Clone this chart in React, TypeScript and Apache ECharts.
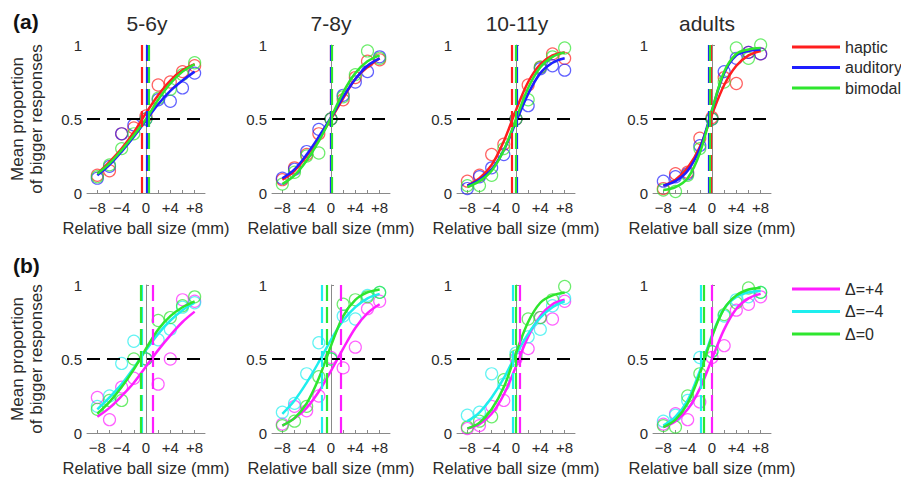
import React, { useEffect, useRef } from 'react';
import * as echarts from 'echarts';

// ---------- data ----------
const X_VALUES = [-8, -6, -4, -2, 0, 2, 4, 6, 8];
const PANEL_TITLES = ['5-6y', '7-8y', '10-11y', 'adults'];
const X_LABELS = [-8, -4, 0, 4, 8];
const X_TICKS = [-8, -6, -4, -2, 0, 2, 4, 6, 8];
const Y_TICKS = [0, 0.5, 1];

// Row (a): haptic / auditory / bimodal
const hapticPoints = [
  [0.12, 0.15, 0.40, 0.44, 0.52, 0.73, 0.75, 0.82, 0.86],
  [0.09, 0.17, 0.26, 0.40, 0.50, 0.63, 0.78, 0.89, 0.90],
  [0.08, 0.12, 0.26, 0.33, 0.50, 0.73, 0.85, 0.94, 0.91],
  [0.03, 0.13, 0.14, 0.37, 0.51, 0.78, 0.74, 0.95, 0.94],
];
const auditoryPoints = [
  [0.10, 0.18, 0.40, 0.46, 0.50, 0.63, 0.62, 0.71, 0.81],
  [0.10, 0.16, 0.28, 0.43, 0.50, 0.66, 0.75, 0.82, 0.92],
  [0.03, 0.11, 0.17, 0.26, 0.50, 0.59, 0.84, 0.86, 0.83],
  [0.08, 0.11, 0.13, 0.32, 0.50, 0.82, 0.91, 0.95, 0.94],
];
const bimodalPoints = [
  [0.11, 0.19, 0.30, 0.40, 0.50, 0.64, 0.70, 0.80, 0.88],
  [0.06, 0.14, 0.25, 0.27, 0.50, 0.65, 0.80, 0.96, 0.91],
  [0.05, 0.05, 0.12, 0.30, 0.50, 0.63, 0.85, 0.92, 0.98],
  [0.02, 0.01, 0.12, 0.30, 0.50, 0.75, 0.98, 0.91, 1.00],
];
const hapticFit = [
  [0.13, 0.21, 0.30, 0.41, 0.54, 0.66, 0.76, 0.83, 0.87],
  [0.09, 0.15, 0.25, 0.37, 0.50, 0.64, 0.77, 0.85, 0.91],
  [0.05, 0.10, 0.19, 0.35, 0.56, 0.75, 0.87, 0.93, 0.95],
  [0.05, 0.09, 0.17, 0.31, 0.53, 0.73, 0.86, 0.93, 0.96],
];
const auditoryFit = [
  [0.12, 0.19, 0.28, 0.38, 0.49, 0.60, 0.69, 0.76, 0.82],
  [0.10, 0.16, 0.26, 0.38, 0.51, 0.65, 0.77, 0.86, 0.91],
  [0.05, 0.09, 0.16, 0.29, 0.48, 0.67, 0.81, 0.88, 0.91],
  [0.05, 0.08, 0.15, 0.30, 0.56, 0.81, 0.93, 0.96, 0.97],
];
const bimodalFit = [
  [0.13, 0.20, 0.29, 0.39, 0.50, 0.63, 0.74, 0.82, 0.87],
  [0.06, 0.12, 0.22, 0.35, 0.51, 0.68, 0.81, 0.89, 0.93],
  [0.04, 0.08, 0.15, 0.29, 0.50, 0.71, 0.85, 0.92, 0.95],
  [0.02, 0.04, 0.10, 0.27, 0.56, 0.82, 0.94, 0.97, 0.98],
];
const hapticPSE = [-0.7, -0.1, -0.7, -0.2];
const auditoryPSE = [0.2, 0.0, 0.2, -0.5];
const bimodalPSE = [0.4, 0.1, 0.0, -0.3];

// Row (b): Δ=+4 / Δ=−4 / Δ=0
const plus4Points = [
  [0.24, 0.09, 0.31, 0.37, 0.50, 0.33, 0.50, 0.90, 0.89],
  [0.06, 0.18, 0.15, 0.25, 0.51, 0.44, 0.58, 0.84, 0.89],
  [0.03, 0.05, 0.18, 0.22, 0.50, 0.57, 0.78, 0.77, 0.89],
  [0.06, 0.13, 0.09, 0.21, 0.51, 0.59, 0.83, 0.87, 0.92],
];
const minus4Points = [
  [0.18, 0.25, 0.47, 0.62, 0.50, 0.63, 0.70, 0.85, 0.88],
  [0.14, 0.20, 0.40, 0.61, 0.50, 0.79, 0.77, 0.93, 0.95],
  [0.12, 0.14, 0.40, 0.33, 0.54, 0.65, 0.70, 0.86, 0.91],
  [0.08, 0.12, 0.22, 0.51, 0.55, 0.79, 0.90, 0.92, 0.95],
];
const zeroPoints = [
  [0.16, 0.22, 0.22, 0.50, 0.50, 0.76, 0.78, 0.86, 0.92],
  [0.05, 0.08, 0.18, 0.38, 0.50, 0.87, 0.90, 0.92, 0.95],
  [0.04, 0.08, 0.11, 0.36, 0.52, 0.77, 0.78, 0.90, 0.99],
  [0.05, 0.04, 0.25, 0.40, 0.55, 0.80, 0.88, 0.98, 0.95],
];
const plus4Fit = [
  [0.11, 0.17, 0.25, 0.34, 0.45, 0.56, 0.66, 0.75, 0.82],
  [0.05, 0.10, 0.17, 0.28, 0.42, 0.57, 0.71, 0.81, 0.87],
  [0.03, 0.06, 0.13, 0.26, 0.45, 0.65, 0.79, 0.87, 0.90],
  [0.04, 0.08, 0.16, 0.30, 0.50, 0.70, 0.84, 0.91, 0.94],
];
const minus4Fit = [
  [0.16, 0.24, 0.33, 0.44, 0.56, 0.67, 0.76, 0.83, 0.88],
  [0.13, 0.22, 0.34, 0.48, 0.63, 0.76, 0.85, 0.91, 0.94],
  [0.08, 0.14, 0.24, 0.37, 0.53, 0.67, 0.78, 0.85, 0.89],
  [0.05, 0.11, 0.22, 0.42, 0.66, 0.84, 0.92, 0.95, 0.96],
];
const zeroFit = [
  [0.13, 0.21, 0.31, 0.43, 0.57, 0.70, 0.79, 0.85, 0.89],
  [0.05, 0.10, 0.20, 0.37, 0.59, 0.79, 0.90, 0.95, 0.97],
  [0.03, 0.07, 0.16, 0.31, 0.54, 0.75, 0.88, 0.93, 0.95],
  [0.04, 0.09, 0.20, 0.40, 0.65, 0.84, 0.93, 0.97, 0.98],
];
const plus4PSE = [1.1, 1.6, 0.6, 0.0];
const minus4PSE = [-0.7, -1.6, -0.5, -1.9];
const zeroPSE = [-0.8, -0.7, 0.0, -1.4];

// ---------- layout / style ----------
const FONT = '"Liberation Sans", Arial, sans-serif';
const TEXT = '#2a2a2a';
const AXIS = '#8a8a8a';
const GRID_LEFTS = [87, 272, 457, 653];
const GRID_TOPS = [45, 285];
const GRID_W = 118;
const GRID_H = 148;

const ROWS = [
  {
    label: '(a)',
    conds: [
      { name: 'haptic', color: '#ff1e1e', pts: hapticPoints, fit: hapticFit, pse: hapticPSE },
      { name: 'auditory', color: '#1e1eff', pts: auditoryPoints, fit: auditoryFit, pse: auditoryPSE },
      { name: 'bimodal', color: '#2ee62e', pts: bimodalPoints, fit: bimodalFit, pse: bimodalPSE },
    ],
  },
  {
    label: '(b)',
    conds: [
      { name: 'Δ=+4', color: '#ff1eff', pts: plus4Points, fit: plus4Fit, pse: plus4PSE },
      { name: 'Δ=−4', color: '#1eeeee', pts: minus4Points, fit: minus4Fit, pse: minus4PSE },
      { name: 'Δ=0', color: '#2ee62e', pts: zeroPoints, fit: zeroFit, pse: zeroPSE },
    ],
  },
];

function fmtX(v: number) {
  if (v === 0) return '0';
  return v > 0 ? '+' + v : '\u2212' + Math.abs(v);
}

function buildOption() {
  const grid: any[] = [];
  const xAxis: any[] = [];
  const yAxis: any[] = [];
  const series: any[] = [];
  const graphic: any[] = [];

  ROWS.forEach((row, r) => {
    GRID_LEFTS.forEach((left, p) => {
      const k = r * 4 + p;
      grid.push({ left, top: GRID_TOPS[r], width: GRID_W, height: GRID_H });
      xAxis.push({
        type: 'value', gridIndex: k, min: -9.7, max: 9.7,
        axisLine: { show: true, onZero: false, lineStyle: { color: AXIS, width: 1 } },
        axisTick: { show: true, inside: true, length: 3, customValues: X_TICKS, lineStyle: { color: AXIS } },
        axisLabel: { customValues: X_LABELS, formatter: fmtX, color: TEXT, fontSize: 15, fontFamily: FONT, margin: 7 },
        splitLine: { show: false },
        name: 'Relative ball size (mm)', nameLocation: 'middle', nameGap: 26,
        nameTextStyle: { color: TEXT, fontSize: 16.5, fontFamily: FONT },
      });
      yAxis.push({
        type: 'value', gridIndex: k, min: 0, max: 1,
        axisLine: { show: true, lineStyle: { color: AXIS, width: 1 } },
        axisTick: { show: true, inside: true, length: 3, customValues: Y_TICKS, lineStyle: { color: AXIS } },
        axisLabel: { customValues: Y_TICKS, formatter: (v: number) => String(v), color: TEXT, fontSize: 15, fontFamily: FONT, margin: 5 },
        splitLine: { show: false },
        ...(p === 0
          ? {
              name: 'Mean proportion\nof bigger responses', nameLocation: 'middle', nameGap: 41,
              nameTextStyle: { color: TEXT, fontSize: 17, lineHeight: 19, fontFamily: FONT },
            }
          : {}),
      });

      // scatter circles
      row.conds.forEach((c) => {
        series.push({
          type: 'scatter', name: c.name + ' data ' + PANEL_TITLES[p],
          xAxisIndex: k, yAxisIndex: k, silent: true,
          symbol: 'circle', symbolSize: 12,
          itemStyle: { color: 'rgba(255,255,255,0)', borderColor: c.color, borderWidth: 1.2, opacity: 0.7 },
          emphasis: { disabled: true },
          data: X_VALUES.map((x, i) => [x, c.pts[p][i]]),
          z: 2,
        });
      });
      // fitted curves + PSE lines
      row.conds.forEach((c, ci) => {
        const mlData: any[] = [{ xAxis: c.pse[p] }];
        if (ci === 0) {
          mlData.unshift({ yAxis: 0.5, lineStyle: { color: '#000', width: 2, type: [13, 7] } });
        }
        series.push({
          type: 'line', name: c.name,
          xAxisIndex: k, yAxisIndex: k, silent: true,
          smooth: 0.35, symbol: 'none', showSymbol: false,
          lineStyle: { color: c.color, width: 2.5 },
          itemStyle: { color: c.color },
          emphasis: { disabled: true },
          data: X_VALUES.map((x, i) => [x, c.fit[p][i]]),
          z: 3,
          markLine: {
            silent: true, symbol: ['none', 'none'], label: { show: false },
            emphasis: { disabled: true },
            lineStyle: { color: c.color, width: 2.2, type: [16, 6] },
            data: mlData,
          },
        });
      });
    });

    graphic.push({
      type: 'text', left: 13, top: r === 0 ? 11 : 255,
      style: { text: row.label, fill: '#111', font: `bold 21px ${FONT}` },
    });
  });

  PANEL_TITLES.forEach((t, p) => {
    graphic.push({
      type: 'text', x: [147, 331, 517, 707][p], y: 23,
      style: {
        text: t, fill: TEXT, font: `21px ${FONT}`,
        textAlign: 'center', textVerticalAlign: 'middle', align: 'center', verticalAlign: 'middle',
      },
    });
  });

  const legend = ROWS.map((row, r) => ({
    orient: 'vertical', left: 787, top: r === 0 ? 34 : 276,
    icon: 'rect', itemWidth: 48, itemHeight: 3, itemGap: r === 0 ? 4.5 : 6.5,
    selectedMode: false,
    textStyle: { color: TEXT, fontSize: 16, fontFamily: FONT },
    data: row.conds.map((c) => c.name),
  }));

  return {
    animation: false,
    backgroundColor: '#fff',
    textStyle: { fontFamily: FONT },
    grid, xAxis, yAxis, series, graphic, legend,
  };
}

export default function App() {
  const ref = useRef<HTMLDivElement>(null);
  useEffect(() => {
    const chart = echarts.init(ref.current!, null, { renderer: 'svg' });
    chart.setOption(buildOption() as any);
    return () => chart.dispose();
  }, []);
  return (
    <div
      ref={ref}
      style={{ position: 'fixed', left: 0, top: 0, width: 901, height: 478, background: '#fff' }}
    />
  );
}
